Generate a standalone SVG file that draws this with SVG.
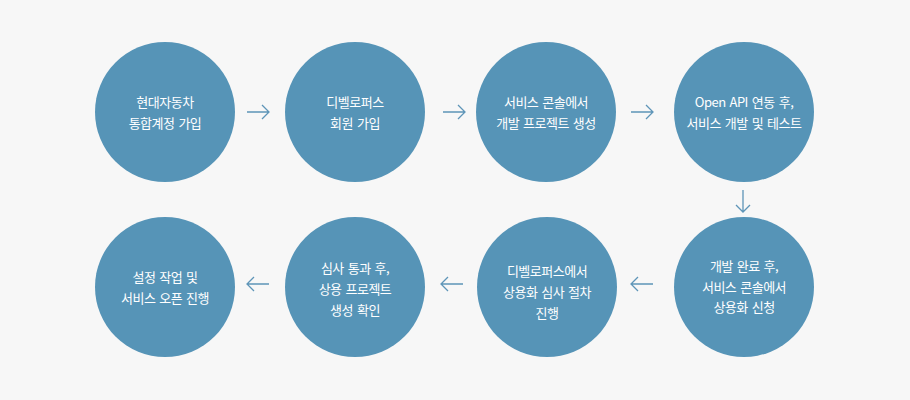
<svg xmlns="http://www.w3.org/2000/svg" width="910" height="400" viewBox="0 0 910 400">
<defs>
<style>
.n circle{fill:#5694b7}
.n text{fill:#fff;font-family:"Noto Sans CJK KR","Noto Sans",sans-serif;font-size:13px;letter-spacing:-0.5px;word-spacing:1.5px;text-anchor:middle}
.c path{fill:none;stroke:#5e95b8;stroke-width:1.3}
</style>
</defs>
<rect width="910" height="400" fill="#f7f7f7"/>
<g id="n1" class="n"><circle cx="165" cy="112" r="70"/><text x="165" y="107">현대자동차</text><text x="165" y="128">통합계정 가입</text></g>
<g id="n2" class="n"><circle cx="355" cy="112" r="70"/><text x="355" y="107">디벨로퍼스</text><text x="355" y="128">회원 가입</text></g>
<g id="n3" class="n"><circle cx="546" cy="112" r="70"/><text x="546" y="107">서비스 콘솔에서</text><text x="546" y="128">개발 프로젝트 생성</text></g>
<g id="n4" class="n"><circle cx="744" cy="112" r="70"/><text x="744" y="107">Open API 연동 후,</text><text x="744" y="128">서비스 개발 및 테스트</text></g>
<g id="n5" class="n"><circle cx="744" cy="287" r="70"/><text x="744" y="271">개발 완료 후,</text><text x="744" y="292">서비스 콘솔에서</text><text x="744" y="312">상용화 신청</text></g>
<g id="n6" class="n"><circle cx="547" cy="287" r="70"/><text x="547" y="276">디벨로퍼스에서</text><text x="547" y="297">상용화 심사 절차</text><text x="547" y="318">진행</text></g>
<g id="n7" class="n"><circle cx="355" cy="287" r="70"/><text x="355" y="273">심사 통과 후,</text><text x="355" y="294">상용 프로젝트</text><text x="355" y="315">생성 확인</text></g>
<g id="n8" class="n"><circle cx="165" cy="287" r="70"/><text x="165" y="282">설정 작업 및</text><text x="165" y="303">서비스 오픈 진행</text></g>
<g id="connectors" class="c">
<path d="M247 112H269M262 105L269 112L262 119"/>
<path d="M443 112H465M458 105L465 112L458 119"/>
<path d="M631 112H653M646 105L653 112L646 119"/>
<path d="M743 190V212M736 205L743 212L750 205"/>
<path d="M653 284H631M638 277L631 284L638 291"/>
<path d="M463 284H441M448 277L441 284L448 291"/>
<path d="M269 284H247M254 277L247 284L254 291"/>
</g>
</svg>
